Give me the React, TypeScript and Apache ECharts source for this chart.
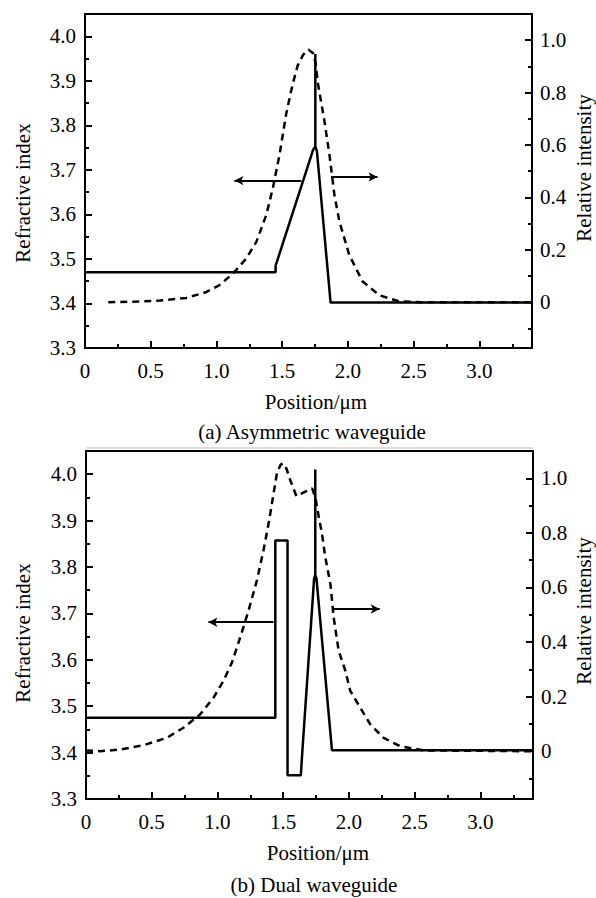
import React, { useEffect, useRef } from "react";
import * as echarts from "echarts";

// ---- tick values ----
const X_MAJOR = [0, 0.5, 1.0, 1.5, 2.0, 2.5, 3.0];
const X_MINOR = [0.25, 0.75, 1.25, 1.75, 2.25, 2.75, 3.25];
const N_MAJOR = [3.3, 3.4, 3.5, 3.6, 3.7, 3.8, 3.9, 4.0];
const N_MINOR = [3.35, 3.45, 3.55, 3.65, 3.75, 3.85, 3.95];
const I_MAJOR = [0, 0.2, 0.4, 0.6, 0.8, 1.0];
const I_MINOR = [-0.1, 0.1, 0.3, 0.5, 0.7, 0.9];

// ---- (a) Asymmetric waveguide ----
const A_INDEX = [
  [0, 3.47], [1.45, 3.47], [1.45, 3.485], [1.735, 3.745], [1.752, 3.752],
  [1.764, 3.742], [1.868, 3.402], [3.4, 3.402],
];
const A_SPIKE = [[1.752, 3.752], [1.752, 3.96]];
const A_INTENSITY = [
  [0.177, 0], [0.37, 0.002], [0.57, 0.006], [0.77, 0.016], [0.92, 0.038],
  [1.02, 0.064], [1.125, 0.109], [1.227, 0.167], [1.303, 0.23], [1.379, 0.333],
  [1.429, 0.436], [1.48, 0.564], [1.53, 0.718], [1.58, 0.833], [1.618, 0.904],
  [1.66, 0.945], [1.7, 0.964], [1.735, 0.95], [1.755, 0.91], [1.77, 0.84],
  [1.821, 0.692], [1.859, 0.564], [1.897, 0.41], [1.935, 0.308], [2.01, 0.18],
  [2.11, 0.08], [2.24, 0.026], [2.39, 0.003], [2.565, 0], [3.4, 0],
];
const A_ARROW_LEFT = [[1.645, 3.676], [1.137, 3.676]];
const A_ARROW_RIGHT = [[1.871, 0.478], [2.225, 0.478]];

// ---- (b) Dual waveguide ----
const B_INDEX = [
  [0, 3.475], [1.44, 3.475], [1.44, 3.857], [1.533, 3.857], [1.533, 3.351],
  [1.634, 3.351], [1.645, 3.4], [1.735, 3.775], [1.744, 3.783], [1.753, 3.775],
  [1.871, 3.405], [3.4, 3.405],
];
const B_SPIKE = [[1.744, 3.783], [1.744, 4.01]];
const B_INTENSITY = [
  [0, 0.003], [0.107, 0], [0.259, 0.006], [0.436, 0.022], [0.614, 0.049],
  [0.741, 0.086], [0.868, 0.135], [0.97, 0.196], [1.046, 0.258], [1.11, 0.325],
  [1.173, 0.417], [1.236, 0.515], [1.3, 0.626], [1.35, 0.736], [1.389, 0.834],
  [1.427, 0.945], [1.452, 1.018], [1.48, 1.05], [1.5, 1.055], [1.525, 1.035],
  [1.553, 0.994], [1.6, 0.935], [1.668, 0.951], [1.72, 0.963], [1.745, 0.93],
  [1.77, 0.86], [1.795, 0.797], [1.82, 0.711], [1.859, 0.613], [1.884, 0.49],
  [1.922, 0.368], [1.973, 0.294], [2.01, 0.221], [2.087, 0.159], [2.163, 0.098],
  [2.264, 0.049], [2.391, 0.018], [2.569, 0.003], [3.4, 0],
];
const B_ARROW_LEFT = [[1.426, 3.681], [0.931, 3.681]];
const B_ARROW_RIGHT = [[1.871, 0.521], [2.234, 0.521]];

const FONT = "Liberation Serif, serif";
const FS = 21;

function fmt1(v: number) {
  return Math.abs(v) < 1e-9 ? "0" : v.toFixed(1);
}

function xAxes(gridIndex: number) {
  const base = {
    gridIndex, type: "value", min: 0, max: 3.4, position: "bottom",
    axisLine: { show: false, onZero: false }, splitLine: { show: false },
  };
  return [
    {
      ...base,
      axisTick: { show: true, inside: true, length: 7, customValues: X_MAJOR, lineStyle: { color: "#000", width: 2 } },
      axisLabel: { show: true, customValues: X_MAJOR, formatter: fmt1, margin: 12, fontFamily: FONT, fontSize: FS, color: "#000" },
    },
    {
      ...base,
      axisTick: { show: true, inside: true, length: 4, customValues: X_MINOR, lineStyle: { color: "#000", width: 2 } },
      axisLabel: { show: false },
    },
  ];
}

function yAxes(gridIndex: number) {
  const common = { gridIndex, type: "value", axisLine: { show: false, onZero: false }, splitLine: { show: false } };
  const left = { ...common, position: "left", min: 3.3, max: 4.05 };
  const right = { ...common, position: "right", min: -0.175, max: 1.1 };
  return [
    {
      ...left,
      axisTick: { show: true, inside: true, length: 7, customValues: N_MAJOR, lineStyle: { color: "#000", width: 2 } },
      axisLabel: { show: true, customValues: N_MAJOR, formatter: fmt1, margin: 9, fontFamily: FONT, fontSize: FS, color: "#000" },
    },
    {
      ...left,
      axisTick: { show: true, inside: true, length: 4, customValues: N_MINOR, lineStyle: { color: "#000", width: 2 } },
      axisLabel: { show: false },
    },
    {
      ...right,
      axisTick: { show: true, inside: true, length: 7, customValues: I_MAJOR, lineStyle: { color: "#000", width: 2 } },
      axisLabel: { show: true, customValues: I_MAJOR, formatter: fmt1, margin: 8, fontFamily: FONT, fontSize: FS, color: "#000" },
    },
    {
      ...right,
      axisTick: { show: true, inside: true, length: 4, customValues: I_MINOR, lineStyle: { color: "#000", width: 2 } },
      axisLabel: { show: false },
    },
  ];
}

function arrowLine(pts: number[][]) {
  return {
    silent: true,
    symbol: ["none", "arrow"],
    symbolSize: [7, 9],
    label: { show: false },
    lineStyle: { color: "#000", width: 2, type: "solid" },
    emphasis: { disabled: true },
    data: [[{ coord: pts[0] }, { coord: pts[1] }]],
  };
}

function panelSeries(g: number, index: number[][], spike: number[][], inten: number[][], al: number[][], ar: number[][]) {
  const xi = g * 2;
  const yl = g * 4;
  const yr = g * 4 + 2;
  const solid = { color: "#000", width: 2.5 };
  return [
    { type: "line", xAxisIndex: xi, yAxisIndex: yl, data: index, symbol: "none", lineStyle: solid, markLine: arrowLine(al) },
    { type: "line", xAxisIndex: xi, yAxisIndex: yl, data: spike, symbol: "none", lineStyle: solid },
    {
      type: "line", xAxisIndex: xi, yAxisIndex: yr, data: inten, symbol: "none",
      lineStyle: { color: "#000", width: 2.5, type: [7, 5] }, markLine: arrowLine(ar),
    },
  ];
}

function textEl(text: string, x: number, y: number, rot = 0) {
  return {
    type: "text", x, y, rotation: rot, silent: true,
    style: { text, fontFamily: FONT, fontSize: FS, fill: "#000", align: "center", verticalAlign: "middle" },
  };
}

export default function App() {
  const ref = useRef<HTMLDivElement>(null);
  useEffect(() => {
    if (!ref.current) return;
    const chart = echarts.init(ref.current, null, { renderer: "svg" });
    chart.setOption({
      animation: false,
      backgroundColor: "#fff",
      textStyle: { fontFamily: FONT },
      grid: [
        { left: 85, top: 14, width: 447, height: 334, show: true, borderColor: "#000", borderWidth: 2, backgroundColor: "transparent" },
        { left: 86, top: 451, width: 447, height: 348, show: true, borderColor: "#000", borderWidth: 2, backgroundColor: "transparent" },
      ],
      xAxis: [...xAxes(0), ...xAxes(1)],
      yAxis: [...yAxes(0), ...yAxes(1)],
      series: [
        ...panelSeries(0, A_INDEX, A_SPIKE, A_INTENSITY, A_ARROW_LEFT, A_ARROW_RIGHT),
        ...panelSeries(1, B_INDEX, B_SPIKE, B_INTENSITY, B_ARROW_LEFT, B_ARROW_RIGHT),
      ],
      graphic: [
        textEl("Refractive index", 23, 193, Math.PI / 2),
        textEl("Relative intensity", 584, 168, Math.PI / 2),
        textEl("Position/\u03bcm", 316, 402),
        textEl("(a) Asymmetric waveguide", 312, 432),
        { type: "line", silent: true, shape: { x1: 86, y1: 448, x2: 533, y2: 448 }, style: { stroke: "#bbb", lineWidth: 1 } },
        textEl("Refractive index", 23, 633, Math.PI / 2),
        textEl("Relative intensity", 584, 611, Math.PI / 2),
        textEl("Position/\u03bcm", 318, 853),
        textEl("(b) Dual waveguide", 314, 885),
      ],
    });
    return () => chart.dispose();
  }, []);
  return <div ref={ref} style={{ position: "absolute", left: 0, top: 0, width: 596, height: 898 }} />;
}
